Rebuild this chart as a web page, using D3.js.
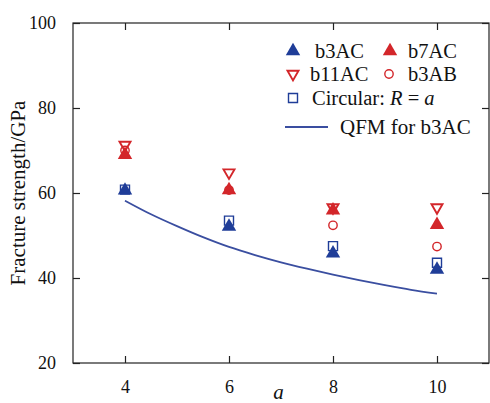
<!DOCTYPE html>
<html>
<head>
<meta charset="utf-8">
<script src="https://cdn.jsdelivr.net/npm/d3@7"></script>
<style>
  body { margin: 0; background: #fff; }
</style>
</head>
<body>
<div id="chart"></div>
<script>
// data
var aValues = [4, 6, 8, 10];
var b3AC = [60.6, 52.1, 45.8, 42.0];
var b7AC = [69.0, 60.7, 55.9, 52.5];
var b11AC = [71.3, 64.8, 56.6, 56.6];
var b3AB = [70.0, 60.7, 52.4, 47.4];
var circular = [60.8, 53.5, 47.5, 43.6];
var qfmA = [4, 4.5, 5, 5.5, 6, 6.5, 7, 7.5, 8, 8.5, 9, 9.5, 10];
var qfmVal = [58.2, 55.0, 52.2, 49.6, 47.3, 45.4, 43.7, 42.2, 40.8, 39.5, 38.3, 37.2, 36.3];
var xTicks = [4, 6, 8, 10];
var yTicks = [20, 40, 60, 80, 100];

var blue = "#1f3d98";
var red = "#d3262a";
var lineBlue = "#3a4ea0";
var serif = "'Liberation Serif'";

var W = 490, H = 403;
var margin = { top: 23, right: 1, bottom: 40, left: 73 };
var width = W - margin.left - margin.right;
var height = H - margin.top - margin.bottom;

var svg = d3.select("#chart").append("svg")
  .attr("width", W).attr("height", H);

var g = svg.append("g").attr("transform", `translate(${margin.left},${margin.top})`);

var x = d3.scaleLinear().domain([3, 11]).range([0, width]);
var y = d3.scaleLinear().domain([20, 100]).range([height, 0]);

// frame
g.append("rect").attr("width", width).attr("height", height)
  .attr("fill", "none").attr("stroke", "#222").attr("stroke-width", 1.2);

// axes (ticks point inward)
var tk = 7;
var gx = g.append("g").attr("transform", `translate(0,${height})`)
  .call(d3.axisBottom(x).tickValues(xTicks).tickSizeInner(-tk).tickSizeOuter(0).tickPadding(17));
var gxTop = g.append("g")
  .call(d3.axisTop(x).tickValues(xTicks).tickSizeInner(-tk).tickSizeOuter(0).tickFormat(""));
var gy = g.append("g")
  .call(d3.axisLeft(y).tickValues(yTicks).tickSizeInner(-tk).tickSizeOuter(0).tickPadding(17));
var gyRight = g.append("g").attr("transform", `translate(${width},0)`)
  .call(d3.axisRight(y).tickValues(yTicks).tickSizeInner(-tk).tickSizeOuter(0).tickFormat(""));

[gx, gxTop, gy, gyRight].forEach(function(a) {
  a.select(".domain").remove();
  a.selectAll(".tick line").attr("stroke", "#222").attr("stroke-width", 1.2);
  a.selectAll("text").style("font-family", serif).style("font-size", "18px").attr("fill", "#111");
});

// axis labels
svg.append("text").attr("x", margin.left + x(6.95)).attr("y", 399)
  .attr("text-anchor", "middle").style("font-family", serif).style("font-size", "21px")
  .style("font-style", "italic").attr("fill", "#111").text("a");
svg.append("text")
  .attr("transform", `translate(25,${margin.top + y(60)}) rotate(-90)`)
  .attr("text-anchor", "middle").style("font-family", serif).style("font-size", "21px")
  .attr("fill", "#111").text("Fracture strength/GPa");

// QFM curve
var line = d3.line().x(function(d, i) { return x(qfmA[i]); }).y(function(d) { return y(d); })
  .curve(d3.curveMonotoneX);
g.append("path").datum(qfmVal).attr("d", line)
  .attr("fill", "none").attr("stroke", lineBlue).attr("stroke-width", 1.8);

// marker helpers
var triUp = d3.symbol().type(d3.symbolTriangle).size(90);
function triDownPath(s) {
  var h = s * Math.sqrt(3) / 2;
  return `M${-s / 2},${-h / 3}L${s / 2},${-h / 3}L0,${2 * h / 3}Z`;
}

function drawSeries(vals, kind, color) {
  var sel = g.append("g").selectAll("path").data(vals).join("path")
    .attr("transform", function(d, i) { return `translate(${x(aValues[i])},${y(d)})`; });
  styleMarker(sel, kind, color);
}
function styleMarker(sel, kind, color) {
  if (kind === "triUp") {
    sel.attr("d", triUp).attr("fill", color);
  } else if (kind === "triDown") {
    sel.attr("d", triDownPath(11)).attr("fill", "none").attr("stroke", color).attr("stroke-width", 1.9);
  } else if (kind === "circle") {
    sel.attr("d", d3.symbol().type(d3.symbolCircle).size(55)).attr("fill", "none")
      .attr("stroke", color).attr("stroke-width", 1.4);
  } else if (kind === "square") {
    sel.attr("d", "M-4.5,-4.5H4.5V4.5H-4.5Z").attr("fill", "none").attr("stroke", color).attr("stroke-width", 1.4);
  }
}

drawSeries(b3AB, "circle", red);
drawSeries(circular, "square", blue);
drawSeries(b7AC, "triUp", red);
drawSeries(b11AC, "triDown", red);
drawSeries(b3AC, "triUp", blue);

// legend
var legendItems = [
  { label: "b3AC", kind: "triUp", color: blue, mx: 293, my: 51, tx: 315 },
  { label: "b7AC", kind: "triUp", color: red, mx: 390, my: 51, tx: 408 },
  { label: "b11AC", kind: "triDown", color: red, mx: 293, my: 74, tx: 310 },
  { label: "b3AB", kind: "circle", color: red, mx: 389, my: 74, tx: 408 },
  { label: "circ", kind: "square", color: blue, mx: 293, my: 98, tx: 312 }
];
var lg = svg.append("g");
legendItems.forEach(function(d) {
  var m = lg.append("path").attr("transform", `translate(${d.mx},${d.my})`);
  styleMarker(m, d.kind, d.color);
  var t = lg.append("text").attr("x", d.tx).attr("y", d.my + 7)
    .style("font-family", serif).style("font-size", "20.5px").attr("fill", "#111");
  if (d.label === "circ") {
    t.append("tspan").text("Circular: ");
    t.append("tspan").style("font-style", "italic").text("R");
    t.append("tspan").text(" = ");
    t.append("tspan").style("font-style", "italic").text("a");
  } else {
    t.text(d.label);
  }
});
lg.append("line").attr("x1", 285).attr("x2", 328).attr("y1", 127).attr("y2", 127)
  .attr("stroke", lineBlue).attr("stroke-width", 1.8);
lg.append("text").attr("x", 340).attr("y", 134)
  .style("font-family", serif).style("font-size", "21px").attr("fill", "#111").text("QFM for b3AC");
</script>
</body>
</html>
